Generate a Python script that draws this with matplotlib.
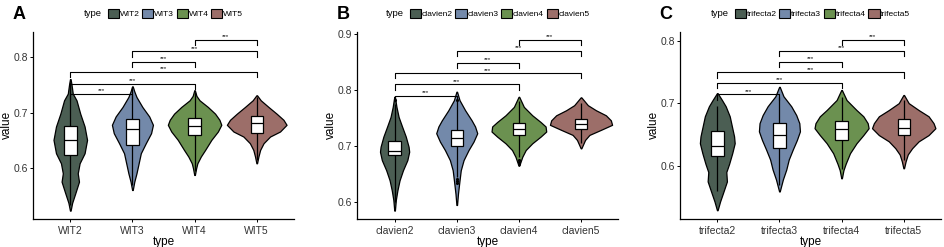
import numpy as np
import matplotlib
matplotlib.use("Agg")
import matplotlib.pyplot as plt
from matplotlib.patches import Rectangle, Patch

plt.rcParams['font.family'] = ['Liberation Sans', 'DejaVu Sans']

# --- colours (same for the 3 panels) ---
fills = ['#4b5e53', '#7389aa', '#6b9150', '#9c6e69']
pairs = [(0, 1), (0, 2), (0, 3), (1, 2), (1, 3), (2, 3)]

# ---------------- panel A ----------------
A_cats = ['WIT2', 'WIT3', 'WIT4', 'WIT5']
A_prof_y = [
    [0.760, 0.750, 0.734, 0.722, 0.698, 0.675, 0.651, 0.627, 0.609, 0.591, 0.576, 0.555, 0.538, 0.524],
    [0.747, 0.738, 0.728, 0.710, 0.693, 0.678, 0.663, 0.645, 0.627, 0.609, 0.591, 0.576, 0.561],
    [0.740, 0.730, 0.722, 0.710, 0.698, 0.687, 0.678, 0.666, 0.651, 0.633, 0.621, 0.609, 0.600, 0.588],
    [0.731, 0.722, 0.710, 0.698, 0.687, 0.678, 0.666, 0.657, 0.645, 0.633, 0.621, 0.609],
]
A_prof_w = [
    [0.005, 0.02, 0.04, 0.10, 0.16, 0.23, 0.27, 0.23, 0.15, 0.12, 0.14, 0.08, 0.03, 0.005],
    [0.005, 0.03, 0.065, 0.16, 0.27, 0.33, 0.30, 0.215, 0.135, 0.10, 0.065, 0.03, 0.005],
    [0.005, 0.03, 0.08, 0.215, 0.33, 0.40, 0.43, 0.375, 0.27, 0.17, 0.10, 0.045, 0.025, 0.005],
    [0.005, 0.065, 0.19, 0.32, 0.43, 0.48, 0.375, 0.215, 0.11, 0.055, 0.027, 0.005],
]
A_q1 = [0.624, 0.642, 0.659, 0.664]
A_med = [0.650, 0.670, 0.676, 0.681]
A_q3 = [0.676, 0.688, 0.691, 0.693]
A_wlo = [0.535, 0.570, 0.595, 0.615]
A_whi = [0.755, 0.745, 0.737, 0.728]
A_out = [[], [], [], []]
A_sig = [0.733, 0.752, 0.773, 0.791, 0.810, 0.830]

# ---------------- panel B ----------------
B_cats = ['clavien2', 'clavien3', 'clavien4', 'clavien5']
B_prof_y = [
    [0.788, 0.770, 0.752, 0.735, 0.717, 0.699, 0.690, 0.675, 0.657, 0.639, 0.621, 0.604, 0.585],
    [0.797, 0.782, 0.764, 0.746, 0.735, 0.723, 0.708, 0.693, 0.675, 0.657, 0.639, 0.615, 0.595],
    [0.788, 0.770, 0.755, 0.743, 0.735, 0.726, 0.717, 0.705, 0.693, 0.681, 0.665],
    [0.787, 0.773, 0.764, 0.755, 0.746, 0.738, 0.729, 0.720, 0.711, 0.696],
]
B_prof_w = [
    [0.005, 0.03, 0.065, 0.12, 0.18, 0.225, 0.235, 0.205, 0.135, 0.08, 0.045, 0.02, 0.005],
    [0.005, 0.045, 0.135, 0.24, 0.295, 0.33, 0.27, 0.19, 0.11, 0.065, 0.045, 0.02, 0.005],
    [0.005, 0.08, 0.215, 0.35, 0.43, 0.44, 0.35, 0.215, 0.11, 0.055, 0.005],
    [0.005, 0.11, 0.24, 0.40, 0.48, 0.50, 0.32, 0.135, 0.065, 0.005],
]
B_q1 = [0.685, 0.701, 0.719, 0.730]
B_med = [0.692, 0.715, 0.730, 0.739]
B_q3 = [0.710, 0.729, 0.742, 0.749]
B_wlo = [0.600, 0.645, 0.680, 0.705]
B_whi = [0.775, 0.780, 0.780, 0.777]
B_out = [[0.782], [0.782, 0.642, 0.638, 0.634], [0.676, 0.672, 0.668], []]
B_sig = [0.790, 0.810, 0.830, 0.849, 0.870, 0.889]

# ---------------- panel C ----------------
C_cats = ['trifecta2', 'trifecta3', 'trifecta4', 'trifecta5']
C_prof_y = [
    [0.716, 0.705, 0.695, 0.679, 0.663, 0.647, 0.636, 0.620, 0.603, 0.590, 0.575, 0.556, 0.543, 0.529],
    [0.726, 0.711, 0.695, 0.681, 0.668, 0.655, 0.641, 0.626, 0.610, 0.594, 0.578, 0.559],
    [0.721, 0.705, 0.689, 0.679, 0.668, 0.660, 0.649, 0.636, 0.620, 0.603, 0.593, 0.580],
    [0.713, 0.700, 0.689, 0.679, 0.668, 0.660, 0.649, 0.639, 0.628, 0.618, 0.607, 0.596],
]
C_prof_w = [
    [0.005, 0.075, 0.135, 0.20, 0.235, 0.27, 0.28, 0.24, 0.19, 0.145, 0.155, 0.09, 0.045, 0.005],
    [0.005, 0.065, 0.19, 0.27, 0.32, 0.33, 0.28, 0.215, 0.15, 0.11, 0.055, 0.005],
    [0.005, 0.08, 0.24, 0.35, 0.42, 0.435, 0.35, 0.24, 0.135, 0.065, 0.03, 0.005],
    [0.005, 0.08, 0.24, 0.40, 0.48, 0.51, 0.40, 0.24, 0.135, 0.065, 0.03, 0.005],
]
C_q1 = [0.615, 0.629, 0.641, 0.649]
C_med = [0.631, 0.649, 0.659, 0.661]
C_q3 = [0.655, 0.668, 0.672, 0.674]
C_wlo = [0.560, 0.570, 0.595, 0.610]
C_whi = [0.695, 0.710, 0.710, 0.705]
C_out = [[], [], [], []]
C_sig = [0.714, 0.732, 0.749, 0.766, 0.784, 0.801]


def draw_panel(ax, letter, cats, prof_y, prof_w, q1, med, q3, wlo, whi, outl, sig_y, ylim, yticks):
    lw = 0.9
    for i in range(len(cats)):
        y = np.array(prof_y[i])
        w = np.array(prof_w[i])
        ax.fill_betweenx(y, i - w, i + w, facecolor=fills[i], edgecolor='black', lw=lw,
                         joinstyle='round', zorder=2)
        # whiskers + box
        ax.vlines(i, wlo[i], q1[i], color='black', lw=lw, zorder=3)
        ax.vlines(i, q3[i], whi[i], color='black', lw=lw, zorder=3)
        ax.add_patch(Rectangle((i - 0.1, q1[i]), 0.2, q3[i] - q1[i], facecolor='white',
                               edgecolor='black', lw=lw, zorder=4))
        ax.hlines(med[i], i - 0.1, i + 0.1, color='black', lw=lw, zorder=5)
        if outl[i]:
            ax.scatter([i] * len(outl[i]), outl[i], s=5, color='black', zorder=5, lw=0)

    # significance brackets
    tip = 0.028 * (ylim[1] - ylim[0])
    for (a, b), y in zip(pairs, sig_y):
        ax.plot([a, a, b, b], [y - tip, y, y, y - tip], color='black', lw=0.8, zorder=3)
        ax.annotate('***', ((a + b) / 2, y), xytext=(0, 0.5), textcoords='offset points',
                    ha='center', va='bottom', fontsize=4.5)

    ax.set_xlim(-0.6, 3.6)
    ax.set_ylim(*ylim)
    ax.set_xticks(range(len(cats)))
    ax.set_xticklabels(cats)
    ax.set_yticks(yticks)
    ax.set_yticklabels([f"{t:.1f}" for t in yticks])
    for s in ['top', 'right']:
        ax.spines[s].set_visible(False)
    for s in ['left', 'bottom']:
        ax.spines[s].set_linewidth(0.9)
    ax.tick_params(length=2.2, width=0.7, labelsize=7.5, colors='black', pad=1.5)
    ax.tick_params(axis='x', pad=2.5)
    for lab in ax.get_xticklabels() + ax.get_yticklabels():
        lab.set_color('#333333')
    ax.set_xlabel('type', fontsize=8.5, labelpad=0)
    ax.set_ylabel('value', fontsize=8.5, labelpad=0.5)
    ax.text(-0.08, 1.137, letter, transform=ax.transAxes, fontsize=13, fontweight='bold',
            va='top', ha='left')

    handles = [Patch(facecolor=c, edgecolor='black', lw=0.8) for c in fills]
    leg = ax.legend(handles, cats, ncol=4, loc='center left', bbox_to_anchor=(0, 0.945),
                    bbox_transform=fig.transFigure, frameon=False, fontsize=6,
                    handlelength=1.35, handleheight=1.35, handletextpad=0.1,
                    columnspacing=0.3, borderpad=0, borderaxespad=0)
    ttl = fig.text(0, 0.945, 'type', fontsize=6.8, va='center', ha='left')
    return leg, ttl


fig = plt.figure(figsize=(9.45, 2.47), dpi=100)
lefts = [33 / 945, 357.3 / 945, 680 / 945]
axes = [fig.add_axes([l, 0.1134, 0.2762, 0.758]) for l in lefts]

legs = []
legs.append(draw_panel(axes[0], 'A', A_cats, A_prof_y, A_prof_w, A_q1, A_med, A_q3, A_wlo, A_whi,
                       A_out, A_sig, (0.509, 0.845), [0.6, 0.7, 0.8]))
legs.append(draw_panel(axes[1], 'B', B_cats, B_prof_y, B_prof_w, B_q1, B_med, B_q3, B_wlo, B_whi,
                       B_out, B_sig, (0.570, 0.904), [0.6, 0.7, 0.8, 0.9]))
legs.append(draw_panel(axes[2], 'C', C_cats, C_prof_y, C_prof_w, C_q1, C_med, C_q3, C_wlo, C_whi,
                       C_out, C_sig, (0.515, 0.814), [0.6, 0.7, 0.8]))

# centre "type + keys" above each panel
fig.canvas.draw()
r = fig.canvas.get_renderer()
W = fig.bbox.width
for ax, (leg, ttl) in zip(axes, legs):
    bb_ax = ax.get_window_extent(r)
    cx = (bb_ax.x0 + bb_ax.x1) / 2
    wl = leg.get_window_extent(r).width
    wt = ttl.get_window_extent(r).width
    gap = 6
    total = wt + gap + wl
    x0 = cx - total / 2
    ttl.set_x(x0 / W)
    leg.set_bbox_to_anchor(((x0 + wt + gap) / W, 0.945), transform=fig.transFigure)

fig.savefig('out.png', dpi=100)
